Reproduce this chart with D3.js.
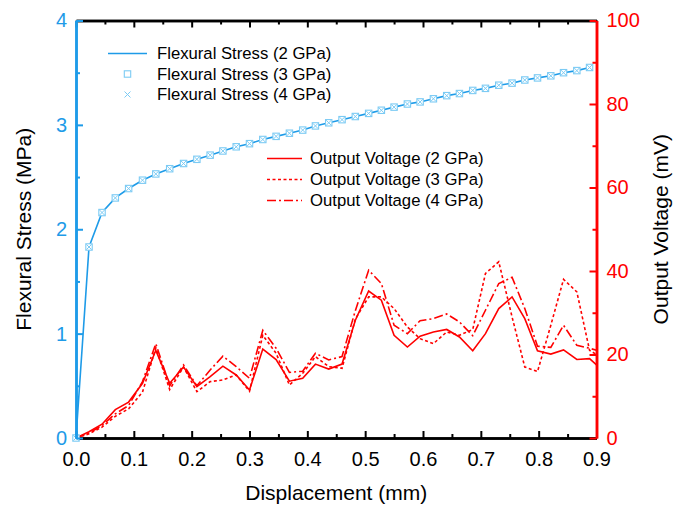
<!DOCTYPE html>
<html>
<head>
<meta charset="utf-8">
<script src="https://cdn.jsdelivr.net/npm/d3@7"></script>
<style>
body { margin: 0; background: #fff; }
text { font-family: Arial, "Liberation Sans", sans-serif; }
</style>
</head>
<body>
<svg id="main"></svg>
<script>
// displacement grid (mm) shared by the series
const disp = [0, 0.0225, 0.045, 0.068, 0.091, 0.115, 0.138, 0.162, 0.186, 0.209, 0.232, 0.254, 0.277, 0.300, 0.323, 0.346, 0.369, 0.392, 0.414, 0.437,
	0.460, 0.483, 0.506, 0.528, 0.550, 0.573, 0.595, 0.618, 0.641, 0.663, 0.686, 0.708, 0.731, 0.754, 0.776, 0.798, 0.821, 0.843, 0.866, 0.888];
const voltDisp = disp.concat([0.9]);

// flexural stress (MPa), the three moduli give the same curve
const stress2 = [0, 1.83, 2.16, 2.30, 2.39, 2.47, 2.53, 2.58, 2.63, 2.67, 2.71, 2.75, 2.79, 2.82, 2.86, 2.89, 2.92, 2.95, 2.99, 3.02,
	3.05, 3.08, 3.11, 3.14, 3.17, 3.20, 3.22, 3.25, 3.28, 3.30, 3.33, 3.35, 3.38, 3.40, 3.43, 3.45, 3.47, 3.50, 3.52, 3.55];
const stress3 = [0, 1.83, 2.16, 2.30, 2.39, 2.47, 2.53, 2.58, 2.63, 2.67, 2.71, 2.75, 2.79, 2.82, 2.86, 2.89, 2.92, 2.95, 2.99, 3.02,
	3.05, 3.08, 3.11, 3.14, 3.17, 3.20, 3.22, 3.25, 3.28, 3.30, 3.33, 3.35, 3.38, 3.40, 3.43, 3.45, 3.47, 3.50, 3.52, 3.55];
const stress4 = [0, 1.83, 2.16, 2.30, 2.39, 2.47, 2.53, 2.58, 2.63, 2.67, 2.71, 2.75, 2.79, 2.82, 2.86, 2.89, 2.92, 2.95, 2.99, 3.02,
	3.05, 3.08, 3.11, 3.14, 3.17, 3.20, 3.22, 3.25, 3.28, 3.30, 3.33, 3.35, 3.38, 3.40, 3.43, 3.45, 3.47, 3.50, 3.52, 3.55];

// output voltage (mV)
const volt2 = [0, 1.5, 3.3, 6.8, 8.6, 13.1, 21.0, 13.1, 17.0, 12.3, 14.7, 17.2, 15.1, 11.5, 21.3, 18.8, 13.6, 14.3, 17.7, 16.5,
	17.7, 28.2, 35.2, 33.0, 24.6, 21.8, 24.4, 25.4, 26.0, 24.2, 20.9, 25.0, 31.0, 33.8, 28.6, 20.9, 20.1, 21.1, 18.8, 19.0, 17.5];
const volt3 = [0, 1.0, 2.6, 5.2, 7.0, 11.0, 21.6, 11.6, 17.0, 11.1, 13.5, 13.9, 15.1, 11.2, 24.6, 20.3, 12.7, 15.5, 19.5, 17.1,
	16.7, 28.5, 33.8, 33.8, 31.0, 26.6, 23.8, 22.6, 25.4, 24.6, 26.0, 39.4, 42.2, 29.0, 17.0, 15.9, 27.0, 38.0, 35.0, 21.0, 20.0];
const volt4 = [0, 1.2, 3.0, 5.8, 7.8, 13.5, 22.6, 12.5, 17.5, 12.5, 16.3, 19.6, 17.1, 14.3, 25.8, 21.5, 15.7, 16.0, 20.3, 18.7,
	19.5, 30.5, 40.2, 37.0, 27.0, 25.0, 28.1, 28.6, 29.7, 27.8, 24.5, 30.6, 37.0, 38.5, 31.0, 22.0, 21.7, 27.0, 22.2, 21.5, 21.0];

// ticks
const xTicks = [0, 0.1, 0.2, 0.3, 0.4, 0.5, 0.6, 0.7, 0.8, 0.9];
const xMinor = [0.05, 0.15, 0.25, 0.35, 0.45, 0.55, 0.65, 0.75, 0.85];
const leftTicks = [0, 1, 2, 3, 4];
const leftMinor = [0.5, 1.5, 2.5, 3.5];
const rightTicks = [0, 20, 40, 60, 80, 100];
const rightMinor = [10, 30, 50, 70, 90];

const stressNames = ["Flexural Stress (2 GPa)", "Flexural Stress (3 GPa)", "Flexural Stress (4 GPa)"];
const voltNames = ["Output Voltage (2 GPa)", "Output Voltage (3 GPa)", "Output Voltage (4 GPa)"];

const BLUE = "#1e9be8";
const LIGHT = "#7ccbf4";
const RED = "#ff0000";

var margin = {top: 20.5, right: 91.5, bottom: 70, left: 76};
var width = 688 - margin.left - margin.right;
var height = 508 - margin.top - margin.bottom;

var svg = d3.select("#main")
	.attr("width", 688)
	.attr("height", 508)
  .append("g")
	.attr("transform", "translate(" + margin.left + "," + margin.top + ")");

var x = d3.scaleLinear().domain([0, 0.9]).range([0, width]);
var yL = d3.scaleLinear().domain([0, 4]).range([height, 0]);
var yR = d3.scaleLinear().domain([0, 100]).range([height, 0]);

// styles an axis group
function styleAxis(g, color, fontSize) {
	g.select(".domain").attr("stroke", color).attr("stroke-width", 2.5);
	g.selectAll(".tick line").attr("stroke", color).attr("stroke-width", 2);
	g.selectAll(".tick text").attr("fill", color).style("font-size", fontSize + "px").style("font-family", "Arial, 'Liberation Sans', sans-serif");
}

// bottom axis
var gb = svg.append("g").attr("transform", "translate(0," + height + ")")
	.call(d3.axisBottom(x).tickValues(xTicks).tickSizeInner(-7).tickSizeOuter(0).tickPadding(14).tickFormat(d3.format(".1f")));
styleAxis(gb, "#000", 20);
var gbm = svg.append("g").attr("transform", "translate(0," + height + ")")
	.call(d3.axisBottom(x).tickValues(xMinor).tickSizeInner(-4).tickSizeOuter(0).tickFormat(""));
styleAxis(gbm, "#000", 20);

// top axis
var gt = svg.append("g")
	.call(d3.axisTop(x).tickValues(xTicks).tickSizeInner(-7).tickSizeOuter(0).tickFormat(""));
styleAxis(gt, "#000", 20);
var gtm = svg.append("g")
	.call(d3.axisTop(x).tickValues(xMinor).tickSizeInner(-4).tickSizeOuter(0).tickFormat(""));
styleAxis(gtm, "#000", 20);

// lines
var stressLine = d3.line().x(function(d, i) { return x(disp[i]); }).y(function(d) { return yL(d); });
var voltLine = d3.line().x(function(d, i) { return x(voltDisp[i]); }).y(function(d) { return yR(d); });

var dashes = [null, "3,2.5", "9,3,2,3"];
[volt2, volt3, volt4].forEach(function(v, k) {
	svg.append("path").datum(v)
		.attr("d", voltLine)
		.attr("fill", "none")
		.attr("stroke", RED)
		.attr("stroke-width", 1.6)
		.attr("stroke-dasharray", dashes[k]);
});

svg.append("path").datum(stress2)
	.attr("d", stressLine)
	.attr("fill", "none")
	.attr("stroke", BLUE)
	.attr("stroke-width", 1.6);

svg.selectAll(".sq").data(stress3).enter().append("rect")
	.attr("x", function(d, i) { return x(disp[i]) - 3.2; })
	.attr("y", function(d) { return yL(d) - 3.2; })
	.attr("width", 6.4).attr("height", 6.4)
	.attr("fill", "#fff").attr("stroke", LIGHT).attr("stroke-width", 1.1);

function cross(g, cx, cy, r) {
	g.append("path")
		.attr("d", "M" + (cx - r) + "," + (cy - r) + "L" + (cx + r) + "," + (cy + r) + "M" + (cx - r) + "," + (cy + r) + "L" + (cx + r) + "," + (cy - r))
		.attr("stroke", LIGHT).attr("stroke-width", 1).attr("fill", "none");
}
stress4.forEach(function(d, i) { cross(svg, x(disp[i]), yL(d), 2.6); });

// left axis
var gl = svg.append("g")
	.call(d3.axisLeft(yL).tickValues(leftTicks).tickSizeInner(-7).tickSizeOuter(0).tickPadding(9).tickFormat(d3.format("d")));
styleAxis(gl, BLUE, 20);
var glm = svg.append("g")
	.call(d3.axisLeft(yL).tickValues(leftMinor).tickSizeInner(-4).tickSizeOuter(0).tickFormat(""));
styleAxis(glm, BLUE, 20);

// right axis
var gr = svg.append("g").attr("transform", "translate(" + width + ",0)")
	.call(d3.axisRight(yR).tickValues(rightTicks).tickSizeInner(-7).tickSizeOuter(0).tickPadding(10).tickFormat(d3.format("d")));
styleAxis(gr, RED, 20);
var grm = svg.append("g").attr("transform", "translate(" + width + ",0)")
	.call(d3.axisRight(yR).tickValues(rightMinor).tickSizeInner(-4).tickSizeOuter(0).tickFormat(""));
styleAxis(grm, RED, 20);

// axis titles
svg.append("text")
	.attr("x", width / 2).attr("y", height + 62)
	.attr("text-anchor", "middle").style("font-size", "21px").attr("fill", "#000")
	.text("Displacement (mm)");
svg.append("text")
	.attr("transform", "translate(" + (-45) + "," + (height / 2) + ")rotate(-90)")
	.attr("text-anchor", "middle").style("font-size", "21px").attr("fill", "#000")
	.text("Flexural Stress (MPa)");
svg.append("text")
	.attr("transform", "translate(" + (width + 71) + "," + (height / 2) + ")rotate(-90)")
	.attr("text-anchor", "middle").style("font-size", "21px").attr("fill", "#000")
	.text("Output Voltage (mV)");

// legend for stress
var leg1 = svg.append("g").attr("transform", "translate(" + (108 - margin.left) + "," + (53.5 - margin.top) + ")");
stressNames.forEach(function(name, k) {
	var yy = k * 20.5;
	if (k === 0) {
		leg1.append("line").attr("x1", 0).attr("x2", 39).attr("y1", yy).attr("y2", yy)
			.attr("stroke", BLUE).attr("stroke-width", 1.6);
	} else if (k === 1) {
		leg1.append("rect").attr("x", 16.3).attr("y", yy - 3.2).attr("width", 6.4).attr("height", 6.4)
			.attr("fill", "#fff").attr("stroke", LIGHT).attr("stroke-width", 1.1);
	} else {
		cross(leg1, 19.5, yy, 3);
	}
	leg1.append("text").attr("x", 49).attr("y", yy).attr("dy", "0.35em")
		.style("font-size", "16.7px").attr("fill", "#000").text(name);
});

// legend for voltage
var leg2 = svg.append("g").attr("transform", "translate(" + (267 - margin.left) + "," + (158.5 - margin.top) + ")");
voltNames.forEach(function(name, k) {
	var yy = k * 21;
	leg2.append("line").attr("x1", 0).attr("x2", 35).attr("y1", yy).attr("y2", yy)
		.attr("stroke", RED).attr("stroke-width", 1.6).attr("stroke-dasharray", dashes[k]);
	leg2.append("text").attr("x", 43).attr("y", yy).attr("dy", "0.35em")
		.style("font-size", "16.7px").attr("fill", "#000").text(name);
});
</script>
</body>
</html>
